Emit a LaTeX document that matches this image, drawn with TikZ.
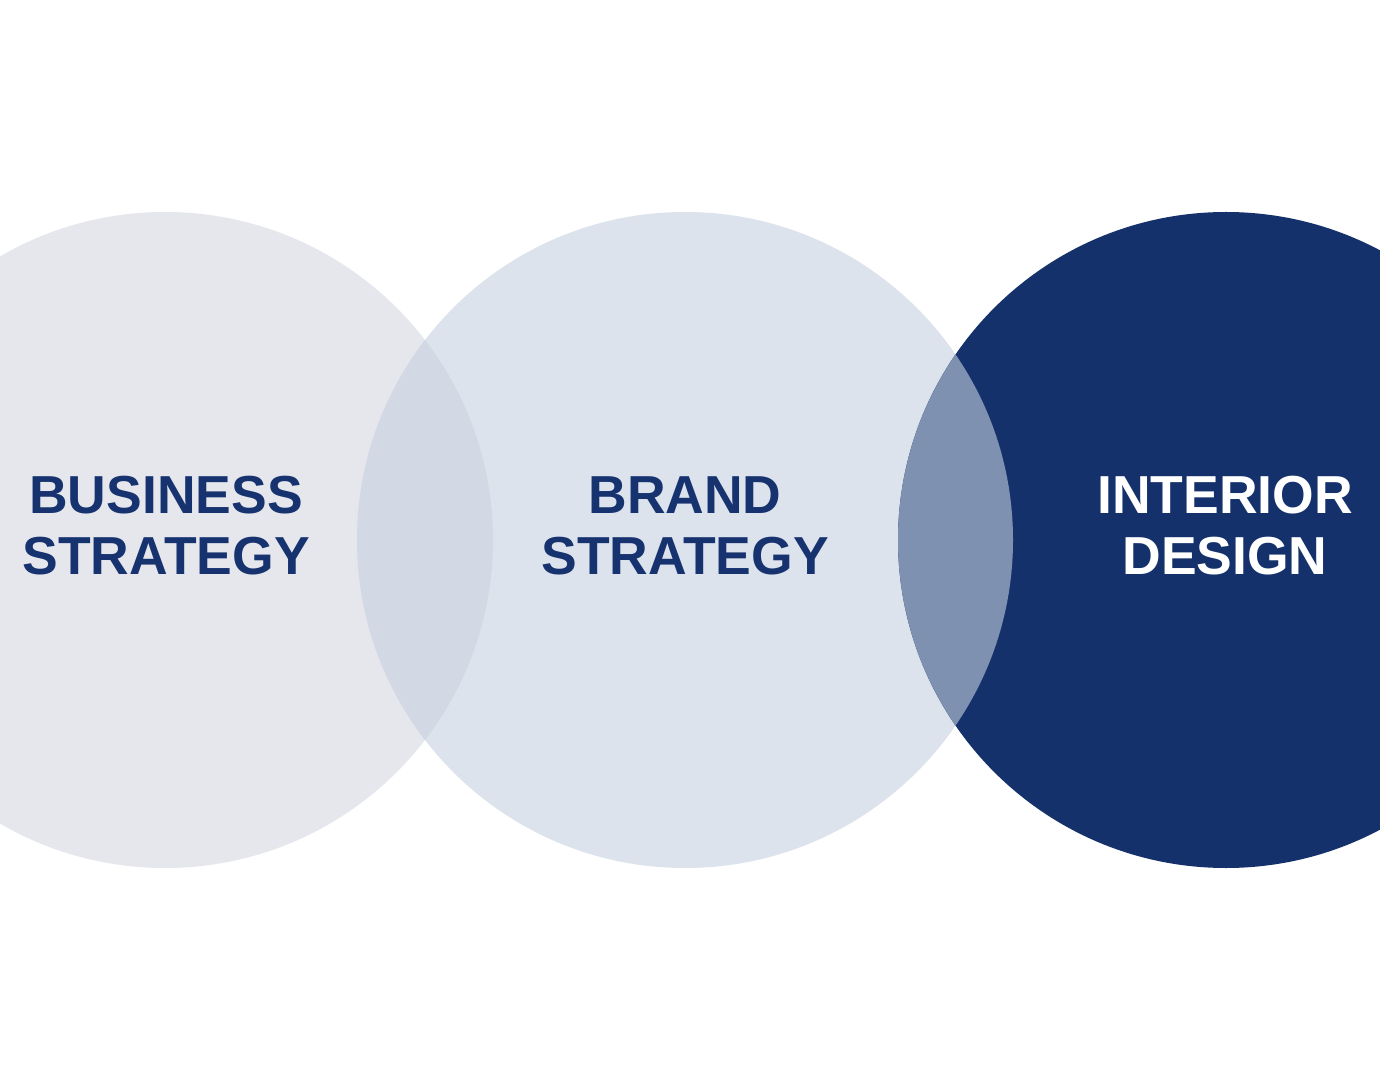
\documentclass[tikz,border=0pt]{standalone}
\usepackage{fontspec}
\setmainfont{Liberation Sans}
\definecolor{cA}{HTML}{E6E7EC}
\definecolor{cB}{HTML}{DCE3EC}
\definecolor{cAB}{HTML}{D2D9E5}
\definecolor{cC}{HTML}{14316B}
\definecolor{cBC}{HTML}{7F91B1}
\definecolor{txt}{HTML}{17336F}
\begin{document}
\begin{tikzpicture}[x=1pt,y=1pt,
  lbl/.style={align=center,inner sep=0pt,font=\bfseries\fontsize{53.5}{61}\selectfont}]
\useasboundingbox (0,0) rectangle (1380,1080);
\fill[white] (0,0) rectangle (1380,1080);
\clip (0,0) rectangle (1380,1080);
\fill[cA] (165,540) circle (328);
\fill[cB] (685,540) circle (328);
\fill[cC] (1226,540) circle (328);
\begin{scope}
  \clip (165,540) circle (328);
  \fill[cAB] (685,540) circle (328);
\end{scope}
\begin{scope}
  \clip (685,540) circle (328);
  \fill[cBC] (1226,540) circle (328);
\end{scope}
\node[lbl,text=txt] (t1) at (166,554) {BUSINESS\\STRATEGY};
\node[lbl,text=txt] (t2) at (685,554) {BRAND\\STRATEGY};
\node[lbl,text=white] (t3) at (1225,554) {INTERIOR\\DESIGN};
\end{tikzpicture}
\end{document}
